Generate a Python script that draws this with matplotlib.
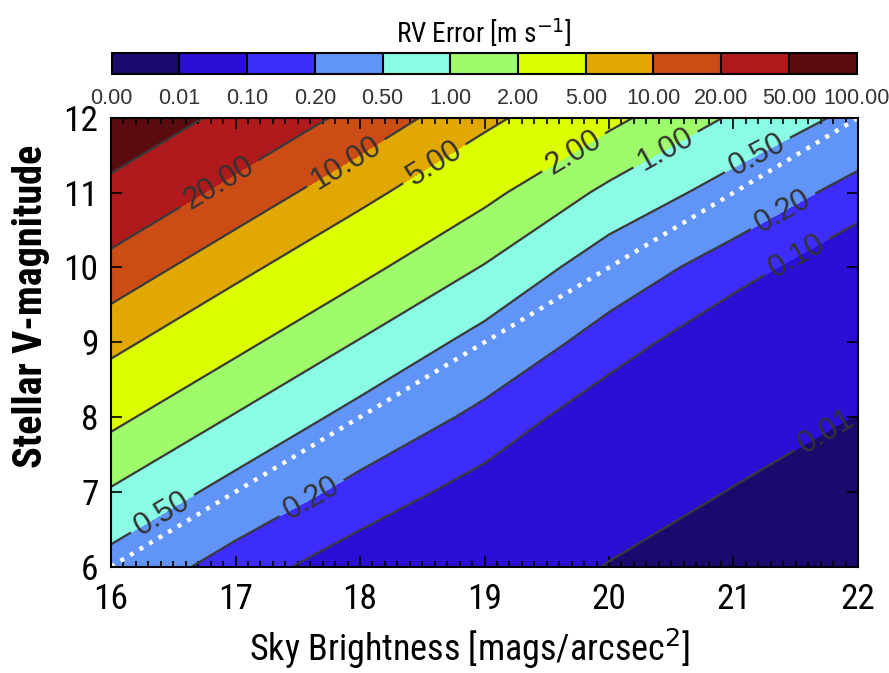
import numpy as np
import matplotlib
matplotlib.use("Agg")
import matplotlib.pyplot as plt
from matplotlib import font_manager
from matplotlib.font_manager import FontProperties
from matplotlib.colors import ListedColormap, BoundaryNorm
from matplotlib.ticker import MultipleLocator

# grid of sky brightness (mag/arcsec^2) and stellar V magnitude
sky = [16, 17, 18, 19, 20, 21, 22]
vmag = [6, 7, 8, 9, 10, 11, 12]

# RV error in m/s, one row per V magnitude, one column per sky brightness
rv_err = [
    [0.383, 0.141, 0.0667, 0.0264, 0.00936, 0.00364, 0.00145],
    [0.940, 0.386, 0.153, 0.0741, 0.0242, 0.00936, 0.00372],
    [2.41, 0.951, 0.391, 0.163, 0.0622, 0.0229, 0.00955],
    [6.14, 2.43, 0.957, 0.387, 0.143, 0.0556, 0.0231],
    [15.9, 6.14, 2.45, 0.957, 0.329, 0.137, 0.0558],
    [39.5, 15.9, 6.18, 2.41, 0.851, 0.367, 0.148],
    [97.9, 39.5, 15.9, 5.96, 2.40, 0.916, 0.411],
]

levels = [0.0, 0.01, 0.1, 0.2, 0.5, 1.0, 2.0, 5.0, 10.0, 20.0, 50.0, 100.0]
level_colors = ["#190b6d", "#2a0fd5", "#3c2dfc", "#6094f7", "#8afce4",
                "#9efb6a", "#dcff00", "#e0a800", "#cc4c16", "#b01a1c", "#5a0c0e"]

# where the contour labels go
label_pos = [(16.86, 11.14), (17.89, 11.39), (18.60, 11.38), (19.73, 11.50),
             (20.45, 11.59), (21.20, 11.48), (16.42, 6.69), (21.40, 10.75),
             (17.60, 6.95), (21.50, 10.16), (21.75, 7.80)]

# V = sky - 10 reference line
ref_sky = [16, 22]
ref_v = [6, 12]

# pick a narrow face if one is around
fonts = font_manager.fontManager.ttflist
cond_file = None
for key in ["LiberationSansNarrow", "RobotoCondensed", "OpenSansCondensed",
            "OpenSans_Condensed", "DejaVuSansCondensed", "Condensed", "Narrow"]:
    hits = [f for f in fonts if key.lower() in f.fname.lower().replace("-", "")]
    if hits:
        reg = [f for f in hits if "bold" not in f.fname.lower() and "italic" not in f.fname.lower()]
        bold = [f for f in hits if "bold" in f.fname.lower() and "italic" not in f.fname.lower()]
        cond_file = (reg or hits)[0].fname
        cond_bold = (bold or reg or hits)[0].fname
        break

if cond_file:
    fp_label = FontProperties(fname=cond_file)
    fp_bold = FontProperties(fname=cond_bold)
else:
    fp_label = FontProperties(family="DejaVu Sans")
    fp_bold = FontProperties(family="DejaVu Sans", weight="bold")

names = {f.name for f in fonts}
plain = "Liberation Sans" if "Liberation Sans" in names else "DejaVu Sans"
plt.rcParams["font.family"] = [plain, "DejaVu Sans"]
plt.rcParams["mathtext.fontset"] = "custom"
plt.rcParams["mathtext.rm"] = fp_label.get_name()

X, Y = np.meshgrid(sky, vmag)
logz = np.log10(np.array(rv_err))
bounds = np.log10(np.array(levels[1:]))
bounds = np.concatenate([[bounds[0] - 3], bounds])

cmap = ListedColormap(level_colors)
norm = BoundaryNorm(bounds, cmap.N)

fig = plt.figure(figsize=(8.89, 6.73), dpi=100)
ax = fig.add_axes([0.1249, 0.1582, 0.8402, 0.6665])
cax = fig.add_axes([0.1256, 0.890, 0.838, 0.0317])

cf = ax.contourf(X, Y, logz, levels=bounds, cmap=cmap, norm=norm)
cs = ax.contour(X, Y, logz, levels=bounds[1:-1], colors="#3a3a3a",
                linewidths=1.6, negative_linestyles="solid")
fmt = {b: "%.2f" % v for b, v in zip(bounds[1:-1], levels[1:-1])}
ax.clabel(cs, fmt=fmt, manual=label_pos, inline=True, inline_spacing=7,
          fontsize=22, colors="#333333")

ax.plot(ref_sky, ref_v, color="white", lw=3.2, ls=(0, (0.9, 1.6)))

ax.set_xlim(16, 22)
ax.set_ylim(6, 12)
ax.xaxis.set_major_locator(MultipleLocator(1))
ax.xaxis.set_minor_locator(MultipleLocator(0.1))
ax.yaxis.set_major_locator(MultipleLocator(1))
ax.tick_params(which="both", direction="in", top=True, right=True, width=1.2)
ax.tick_params(which="major", length=8)
ax.tick_params(which="minor", length=4)
ax.tick_params(axis="x", pad=12)
ax.tick_params(axis="y", pad=9)
for t in ax.get_xticklabels() + ax.get_yticklabels():
    t.set_fontproperties(fp_label)
    t.set_fontsize(25.5)
for s in ax.spines.values():
    s.set_linewidth(1.5)

ax.set_xlabel(r"Sky Brightness [mags/arcsec$^2$]", fontproperties=fp_label, fontsize=26)
ax.set_ylabel("Stellar V-magnitude", fontproperties=fp_bold, fontsize=29)
ax.xaxis.set_label_coords(0.48, -0.135)
ax.yaxis.set_label_coords(-0.082, 0.58)

cb = fig.colorbar(cf, cax=cax, orientation="horizontal", drawedges=True, spacing="uniform")
cb.set_ticks(bounds, labels=["%.2f" % v for v in levels])
cb.ax.tick_params(length=0, pad=10, labelsize=15.5, labelcolor="#333333")
cb.outline.set_linewidth(1.5)
cb.dividers.set_linewidth(1.5)
cb.dividers.set_color("black")
cax.set_title(r"RV Error [m s$^{-1}$]", fontproperties=fp_label, fontsize=19.5, pad=7)

fig.savefig("out.png", dpi=100, facecolor="white")
